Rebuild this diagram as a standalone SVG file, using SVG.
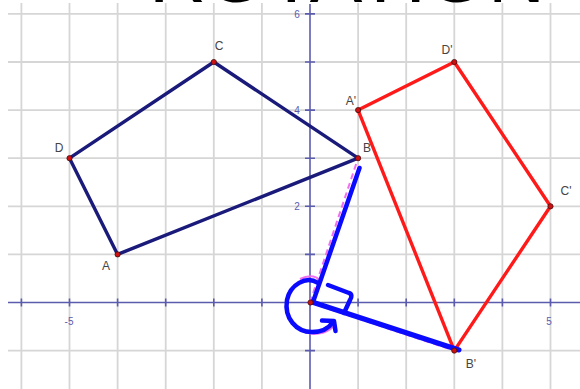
<svg xmlns="http://www.w3.org/2000/svg" width="580" height="389" viewBox="0 0 580 389">
<style>
.grid{stroke:#d6d6d6;stroke-width:1.8;fill:none}
.axis{stroke:#5c5cae;stroke-width:1.6;fill:none}
.ax-lbl{font-family:"Liberation Sans",Arial,sans-serif;font-size:10px;fill:#5c5cae;text-anchor:middle}
.lbl{font-family:"Liberation Sans",Arial,sans-serif;font-size:12px;fill:#444;text-anchor:middle}
.orig{fill:none;stroke:#1a1a7a;stroke-width:3.4;stroke-linejoin:round}
.img{fill:none;stroke:#ff1a1a;stroke-width:3.4;stroke-linejoin:round}
.pt{fill:#d01010;stroke:#401010;stroke-width:0.8}
.pen{fill:none;stroke:#0a0aff;stroke-width:4.5;stroke-linecap:round;stroke-linejoin:round}
.hl{fill:none;stroke:#f070f0;stroke-width:2}
.dash{stroke-dasharray:6 4}
.title{font-family:"Liberation Sans",Arial,sans-serif;font-size:72px;fill:#000;text-anchor:middle}
</style>
<rect width="580" height="389" fill="#fff"/>
<g id="grid">
<path class="grid" d="M21.4 3V389M69.5 3V389M117.6 3V389M165.7 3V389M213.8 3V389M261.9 3V389M358.1 3V389M406.2 3V389M454.3 3V389M502.4 3V389M550.5 3V389"/>
<path class="grid" d="M8 13.9H580M8 62H580M8 110.1H580M8 158.2H580M8 206.3H580M8 254.4H580M8 350.6H580"/>
</g>
<g id="title"><text class="title" x="347" y="2" textLength="396" lengthAdjust="spacingAndGlyphs">ROTATION</text></g>
<g id="axes">
<path class="axis" d="M8 302.5H580M310 4V389"/>
<path class="axis" d="M21.4 298.5v8M69.5 298.5v8M117.6 298.5v8M165.7 298.5v8M213.8 298.5v8M261.9 298.5v8M358.1 298.5v8M406.2 298.5v8M454.3 298.5v8M502.4 298.5v8M550.5 298.5v8"/>
<path class="axis" d="M305 13.9h10M305 62h10M305 110.1h10M305 158.2h10M305 206.3h10M305 254.4h10M305 350.6h10"/>
<text class="ax-lbl" x="297" y="17.5">6</text>
<text class="ax-lbl" x="297" y="113.7">4</text>
<text class="ax-lbl" x="297" y="210">2</text>
<text class="ax-lbl" x="69" y="324.5">-5</text>
<text class="ax-lbl" x="549" y="324.5">5</text>
</g>
<g id="quad-ABCD">
<polygon class="orig" points="117.6,254.4 358.1,158.2 213.8,62 69.5,158.2"/>
</g>
<g id="quad-image">
<polygon class="img" points="358.1,110.1 454.3,350.6 550.5,206.3 454.3,62"/>
</g>
<g id="connectors">
<path class="hl dash" d="M310 302.5L358.1 158.2"/>
<path class="hl dash" d="M310 302.5L454.3 350.6"/>
<path class="hl" d="M300 279C314 272 322 280 320 284M296 284C282 294 284 320 300 330C312 337 326 334 334 326"/>
<path class="pen" d="M313 302L359.5 168"/>
<path class="pen" d="M312 302L459 350" style="stroke-width:5"/>
<path class="pen" d="M318 283C306 275 290 285 287 300C284 318 296 332 312 332C322 332 329 328 333 322"/>
<path class="pen" d="M322 320.5L334 321L335.5 331"/>
<path class="pen" d="M328 285L349 293C352 294 352 297 350 300L344 313"/>
</g>
<g id="points">
<circle class="pt" cx="117.6" cy="254.4" r="2.6"/>
<circle class="pt" cx="358.1" cy="158.2" r="2.6"/>
<circle class="pt" cx="213.8" cy="62" r="2.6"/>
<circle class="pt" cx="69.5" cy="158.2" r="2.6"/>
<circle class="pt" cx="358.1" cy="110.1" r="2.6"/>
<circle class="pt" cx="454.3" cy="62" r="2.6"/>
<circle class="pt" cx="550.5" cy="206.3" r="2.6"/>
<circle class="pt" cx="454.3" cy="350.6" r="2.6"/>
<circle class="pt" cx="310.5" cy="302.5" r="2.6"/>
</g>
<g id="labels">
<text class="lbl" x="106" y="270">A</text>
<text class="lbl" x="367" y="152">B</text>
<text class="lbl" x="219" y="50">C</text>
<text class="lbl" x="59" y="152">D</text>
<text class="lbl" x="351" y="105">A'</text>
<text class="lbl" x="447" y="54">D'</text>
<text class="lbl" x="566" y="195">C'</text>
<text class="lbl" x="471" y="368">B'</text>
</g>
</svg>
